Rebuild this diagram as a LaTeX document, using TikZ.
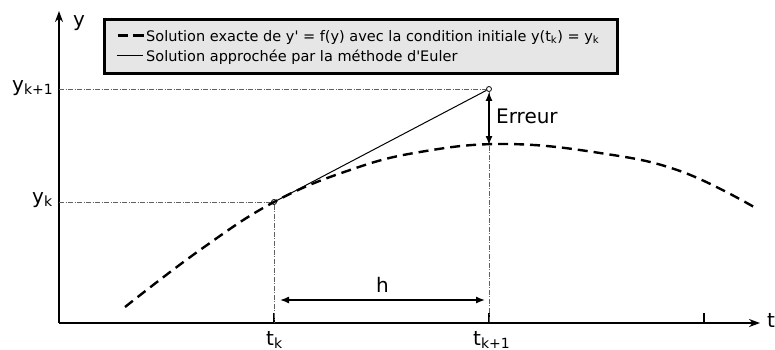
\documentclass[tikz,border=0pt]{standalone}
\usepackage{fontspec}
\setmainfont{DejaVu Sans}[Ligatures=TeXOff]
\usetikzlibrary{arrows.meta}
\definecolor{legfill}{HTML}{E6E6E6}
\tikzset{
  axis/.style={line width=1.8pt,-{Stealth[length=11pt,width=8pt]}},
  guide/.style={gray!75!black,line width=0.6pt,dash pattern=on 5pt off 1.5pt on 1pt off 1.5pt},
  exact/.style={line width=2.4pt,dash pattern=on 10pt off 6pt},
  euler/.style={line width=1pt},
  dim/.style={line width=1.4pt,{Latex[length=9pt,width=7pt]}-{Latex[length=9pt,width=7pt]}},
  dot/.style={circle,draw,fill=white,line width=0.8pt,inner sep=0pt,minimum size=5pt},
  big/.style={font=\fontsize{20}{24}\selectfont,inner sep=0pt,anchor=base west},
  leg/.style={font=\fontsize{14.5}{17}\selectfont,inner sep=0pt,anchor=base west},
}
\begin{document}
\begin{tikzpicture}[x=1pt,y=-1pt]
\useasboundingbox (0,0) rectangle (775,349);
% axes
\coordinate (O) at (59,323);
\coordinate (Ytop) at (59,11);
\coordinate (Tend) at (760,323);
\draw[axis] (O) -- (Ytop);
\draw[axis] (O) -- (Tend);
\node[big] (ylab) at (73,26) {y};
\node[big] (tlab) at (767,327) {t};
% ticks
\coordinate (tk) at (274,323);
\coordinate (tk1) at (489,323);
\coordinate (t2) at (704,323);
\draw[line width=1.2pt] (tk) -- ++(0,-10);
\draw[line width=1.2pt] (tk1) -- ++(0,-10);
\draw[line width=1.2pt] (t2) -- ++(0,-10);
\node[big] (tklab) at (266,345) {t\textsubscript{k}};
\node[big] (tk1lab) at (473,345) {t\textsubscript{k+1}};
% points
\node[dot] (P) at (274,202) {};
\node[dot] (Q) at (489,89) {};
\coordinate (yk) at (59,202);
\coordinate (yk1) at (59,89);
\node[big] (yklab) at (32,203) {y\textsubscript{k}};
\node[big] (yk1lab) at (12,91) {y\textsubscript{k+1}};
% guides
\draw[guide] (yk) -- (P);
\draw[guide] (yk1) -- (Q);
\draw[guide] (P) -- (tk);
\draw[guide] (Q) -- (tk1);
% exact curve
\draw[exact] plot[smooth,tension=0.7] coordinates {(125,307) (200,250) (274,202) (350,170) (420,152) (505,144) (600,153) (680,171) (754,207)};
% euler
\draw[euler] (P) -- (Q);
% error
\coordinate (C) at (489,145);
\draw[dim] (Q.south) -- (C);
\node[big] (err) at (496,123) {Erreur};
% h
\coordinate (h1) at (280,300);
\coordinate (h2) at (485,300);
\draw[dim] (h1) -- (h2);
\node[big] (hlab) at (376,292) {h};
% legend
\node[draw=black,line width=2.5pt,fill=legfill,minimum width=513pt,minimum height=54pt,inner sep=0pt] (legend) at (361,46.5) {};
\draw[line width=3pt,dash pattern=on 10.5pt off 5pt] (117.5,35) coordinate (l1a) -- (143.5,35) coordinate (l1b);
\draw[line width=1pt] (117,55) coordinate (l2a) -- (143,55) coordinate (l2b);
\node[leg] (leg1) at (146,41) {Solution exacte de y' = f(y) avec la condition initiale y(t\textsubscript{k}) = y\textsubscript{k}};
\node[leg] (leg2) at (146,61.5) {Solution approchée par la méthode d'Euler};
\end{tikzpicture}
\end{document}
